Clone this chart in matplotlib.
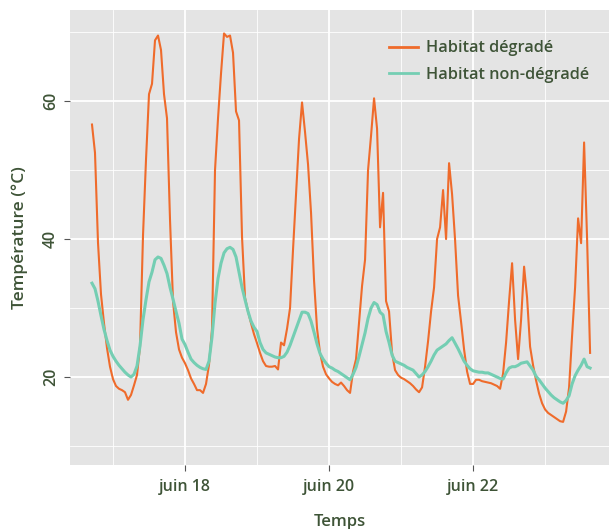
import numpy as np
import pandas as pd
import matplotlib
matplotlib.use("Agg")
import matplotlib.pyplot as plt
import matplotlib.dates as mdates

# relevés horaires à partir du 16 juin 17h
start = "2023-06-16 17:00"

temp_degrade = [
    56.6, 52.5, 39.5, 32.0, 27.8, 24.2, 21.5, 19.7, 18.7, 18.3,
    18.1, 17.8, 16.7, 17.4, 18.8, 20.3, 24.4, 40.5, 51.5, 61.0,
    62.5, 68.8, 69.5, 67.4, 61.0, 57.5, 42.8, 31.0, 26.5, 24.0,
    22.8, 22.0, 21.0, 19.8, 19.0, 18.1, 18.1, 17.7, 19.0, 21.8,
    27.0, 50.0, 57.5, 64.0, 69.8, 69.3, 69.5, 67.0, 58.5, 57.2,
    40.3, 31.5, 29.5, 27.8, 26.2, 24.9, 23.5, 22.3, 21.6, 21.5,
    21.5, 21.6, 21.1, 25.0, 24.6, 27.0, 30.0, 38.5, 46.5, 54.5,
    59.8, 55.5, 50.8, 43.8, 34.0, 27.0, 23.5, 21.5, 20.4, 19.8,
    19.3, 19.0, 18.8, 19.2, 18.7, 18.1, 17.7, 20.8, 22.6, 28.0,
    33.2, 37.0, 50.0, 55.0, 60.4, 56.0, 41.7, 46.7, 31.0, 29.5,
    23.5, 21.0, 20.3, 19.9, 19.7, 19.4, 19.1, 18.7, 18.2, 17.8,
    18.5, 21.5, 25.2, 29.5, 33.0, 40.0, 41.7, 47.1, 40.0, 51.0,
    46.5, 39.9, 31.8, 28.0, 24.0, 20.8, 19.0, 19.0, 19.6, 19.6,
    19.4, 19.3, 19.2, 19.1, 18.9, 18.7, 18.3, 20.5, 25.0, 31.0,
    36.5, 28.3, 22.6, 28.3, 36.0, 31.5, 24.4, 21.7, 19.5, 17.6,
    16.2, 15.3, 14.8, 14.5, 14.2, 13.9, 13.6, 13.5, 15.0, 18.5,
    26.0, 33.0, 43.0, 39.4, 54.0, 40.0, 23.5,
]

temp_non_degrade = [
    33.6, 32.8, 31.0, 28.9, 26.9, 25.3, 23.9, 23.0, 22.3, 21.7,
    21.2, 20.7, 20.3, 20.0, 20.4, 21.6, 24.5, 28.3, 31.2, 33.8,
    35.2, 37.0, 37.4, 37.2, 36.2, 35.0, 33.0, 31.3, 29.5, 27.8,
    25.5, 24.7, 23.6, 22.6, 22.1, 21.7, 21.4, 21.2, 21.1, 22.3,
    25.8, 30.7, 34.3, 36.5, 38.0, 38.6, 38.8, 38.5, 37.4, 35.2,
    33.0, 31.2, 29.5, 28.1, 27.2, 26.6, 25.0, 24.0, 23.5, 23.3,
    23.1, 22.9, 22.8, 22.8, 23.0, 23.6, 24.6, 25.8, 27.0, 28.2,
    29.4, 29.4, 29.2, 28.1, 26.5, 24.8, 23.4, 22.6, 22.0, 21.5,
    21.3, 21.0, 20.8, 20.5, 20.2, 19.9, 19.6, 20.4, 21.4, 23.0,
    24.7, 26.4, 28.5, 30.0, 30.8, 30.5, 29.4, 29.0, 26.6, 25.0,
    23.2, 22.3, 22.1, 21.9, 21.7, 21.4, 21.2, 21.0, 20.5, 20.0,
    20.3, 20.8, 21.5, 22.3, 23.2, 23.9, 24.2, 24.5, 24.8, 25.3,
    25.7, 24.9, 24.1, 23.2, 22.3, 21.7, 21.2, 20.9, 20.8, 20.7,
    20.7, 20.6, 20.6, 20.4, 20.2, 20.0, 19.8, 19.7, 20.6, 21.3,
    21.5, 21.5, 21.7, 22.0, 22.1, 22.2, 21.6, 21.0, 20.1, 19.6,
    19.0, 18.4, 17.9, 17.4, 17.0, 16.7, 16.4, 16.2, 16.6, 17.3,
    19.0, 20.2, 21.0, 21.7, 22.6, 21.5, 21.3,
]

series_labels = ["Habitat dégradé", "Habitat non-dégradé"]
series_colors = ["#EF6B2B", "#74CEB3"]

times = pd.date_range(start, periods=len(temp_degrade), freq="h")

txt_color = "#3E5437"
plt.rcParams["font.family"] = ["Open Sans", "DejaVu Sans"]

fig = plt.figure(figsize=(6.09, 5.29), dpi=100)
ax = fig.add_axes([70 / 609, 64 / 529, 539 / 609, 455 / 529])
ax.set_facecolor("#E4E4E4")

ax.plot(times, temp_degrade, color=series_colors[0], lw=1.5,
        label=series_labels[0], zorder=3)
ax.plot(times, temp_non_degrade, color=series_colors[1], lw=2.2,
        label=series_labels[1], zorder=4)

# limites du panneau
t0 = pd.Timestamp(start)
ax.set_xlim(t0 - pd.Timedelta(hours=7.33), t0 + pd.Timedelta(hours=172.3))
ax.set_ylim(7.25, 73.2)

ax.xaxis.set_major_locator(mdates.DayLocator(bymonthday=[18, 20, 22]))
ax.xaxis.set_minor_locator(mdates.DayLocator(bymonthday=[17, 19, 21, 23]))
ax.xaxis.set_major_formatter(
    matplotlib.ticker.FuncFormatter(lambda v, p: "juin %d" % mdates.num2date(v).day))
ax.set_yticks([20, 40, 60])
ax.set_yticks([10, 30, 50, 70], minor=True)

ax.grid(which="major", color="white", lw=1.3)
ax.grid(which="minor", color="white", lw=0.6)
ax.set_axisbelow(True)
for s in ax.spines.values():
    s.set_visible(False)

ax.tick_params(which="major", length=4, width=0.8, color="#555555",
               labelsize=11.5, labelcolor=txt_color)
ax.tick_params(axis="x", pad=6)
ax.tick_params(axis="y", pad=4)
ax.tick_params(which="minor", length=0)
for lab in ax.get_xticklabels():
    lab.set_fontweight("semibold")
for lab in ax.get_yticklabels():
    lab.set_rotation(90)
    lab.set_va("center")
    lab.set_fontweight("semibold")

ax.set_xlabel("Temps", fontsize=12, fontweight="semibold", color=txt_color, labelpad=14)
ax.set_ylabel("Température (°C)", fontsize=12.5, fontweight="semibold", color=txt_color, labelpad=11)

leg = ax.legend(loc="upper left", bbox_to_anchor=(0.592, 0.933), frameon=False,
                borderaxespad=0, borderpad=0,
                fontsize=11.7, handlelength=1.8, labelspacing=0.62, handletextpad=0.5)
for t in leg.get_texts():
    t.set_color(txt_color)
    t.set_fontweight("semibold")
for h in leg.get_lines():
    h.set_linewidth(2)

fig.savefig("out.png", dpi=100)
